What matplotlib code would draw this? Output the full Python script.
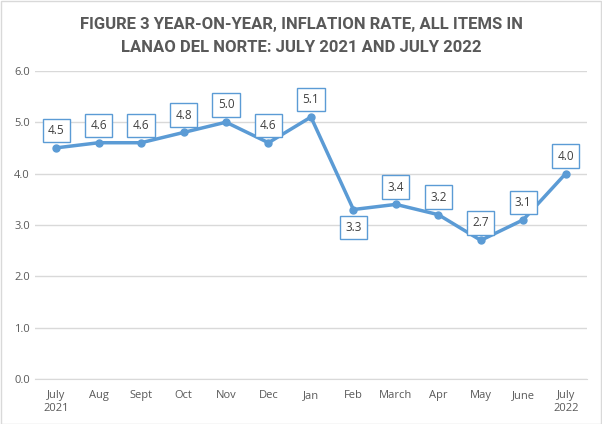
import matplotlib
matplotlib.use("Agg")
import matplotlib.pyplot as plt

# data
months = ["July\n2021", "Aug", "Sept", "Oct", "Nov", "Dec", "Jan",
          "Feb", "March", "Apr", "May", "June", "July\n2022"]
rates = [4.5, 4.6, 4.6, 4.8, 5.0, 4.6, 5.1, 3.3, 3.4, 3.2, 2.7, 3.1, 4.0]
label_below = [False] * 7 + [True] + [False] * 5

plt.rcParams['font.family'] = ['Open Sans', 'DejaVu Sans']

blue = "#5B9BD5"
grey = "#595959"

fig = plt.figure(figsize=(6.02, 4.24), dpi=100)
ax = fig.add_axes([0.058, 0.106, 0.917, 0.727])

x = list(range(len(months)))
ax.plot(x, rates, color=blue, linewidth=2.5, marker="o", markersize=5, zorder=3)

for xi, v, below in zip(x, rates, label_below):
    off = -13 if below else 12.5
    ax.annotate(f"{v:.1f}", (xi, v), xytext=(0, off), textcoords="offset points",
                ha="center", va="center", fontsize=8.5, color="#404040",
                bbox=dict(boxstyle="square,pad=0.45", fc="white", ec=blue, lw=1),
                zorder=4)

ax.set_xlim(-0.5, len(months) - 0.5)
ax.set_ylim(0, 6)
ax.set_yticks([0, 1, 2, 3, 4, 5, 6])
ax.set_yticklabels([f"{t:.1f}" for t in range(7)])
ax.set_xticks(x)
ax.set_xticklabels(months)
ax.tick_params(axis="both", length=0, labelsize=8, colors=grey)
ax.tick_params(axis="x", pad=8)
ax.yaxis.grid(True, color="#D9D9D9", linewidth=1)
ax.set_axisbelow(True)
for s in ["top", "right", "left"]:
    ax.spines[s].set_visible(False)
ax.spines["bottom"].set_color("#D9D9D9")

fig.text(0.5, 0.915, "FIGURE 3 YEAR-ON-YEAR, INFLATION RATE, ALL ITEMS IN\nLANAO DEL NORTE: JULY 2021 AND JULY 2022",
         ha="center", va="center", fontsize=12, fontweight="bold", color=grey,
         family=["Roboto", "DejaVu Sans"], linespacing=1.6)

fig.patches.append(plt.Rectangle((0.001, 0.001), 0.997, 0.997, transform=fig.transFigure,
                                 fill=False, ec="#D9D9D9", lw=1))

fig.savefig("out.png", dpi=100)
